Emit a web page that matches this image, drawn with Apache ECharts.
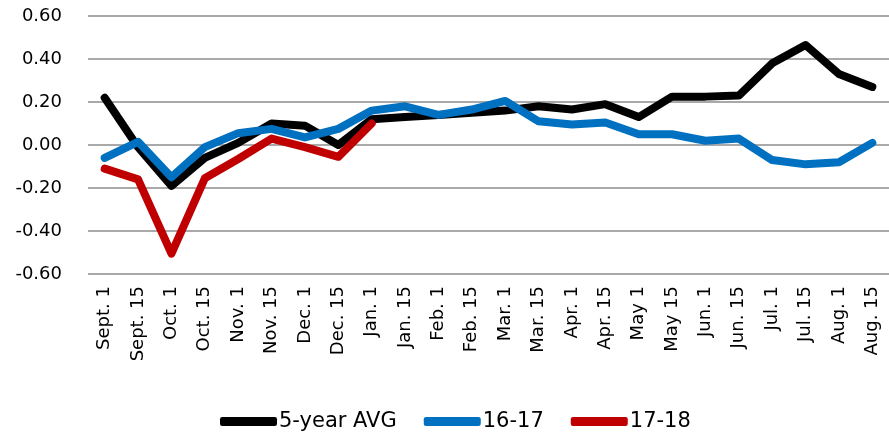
<!DOCTYPE html>
<html>
<head>
<meta charset="utf-8">
<script src="https://cdn.jsdelivr.net/npm/echarts@6/dist/echarts.min.js"></script>
<style>
html, body { margin: 0; padding: 0; background: #fff; }
#main { width: 889px; height: 438px; }
</style>
</head>
<body>
<div id="main"></div>
<script>
var categories = ['Sept. 1', 'Sept. 15', 'Oct. 1', 'Oct. 15', 'Nov. 1', 'Nov. 15', 'Dec. 1', 'Dec. 15',
    'Jan. 1', 'Jan. 15', 'Feb. 1', 'Feb. 15', 'Mar. 1', 'Mar. 15', 'Apr. 1', 'Apr. 15',
    'May 1', 'May 15', 'Jun. 1', 'Jun. 15', 'Jul. 1', 'Jul. 15', 'Aug. 1', 'Aug. 15'];

var avg5 = [0.22, -0.01, -0.19, -0.06, 0.01, 0.10, 0.09, 0.00,
    0.12, 0.13, 0.14, 0.15, 0.16, 0.18, 0.165, 0.19,
    0.13, 0.225, 0.225, 0.23, 0.38, 0.465, 0.33, 0.27];

var y1617 = [-0.06, 0.015, -0.15, -0.01, 0.055, 0.075, 0.035, 0.075,
    0.16, 0.18, 0.14, 0.165, 0.205, 0.11, 0.095, 0.105,
    0.05, 0.05, 0.02, 0.03, -0.07, -0.09, -0.08, 0.01];

var y1718 = [-0.11, -0.16, -0.505, -0.155, -0.065, 0.03, -0.01, -0.055,
    0.10, null, null, null, null, null, null, null,
    null, null, null, null, null, null, null, null];

var yTicks = [-0.6, -0.4, -0.2, 0, 0.2, 0.4, 0.6];

var myChart = echarts.init(document.getElementById('main'));

function lineSeries(name, data, color) {
    return {
        name: name,
        type: 'line',
        data: data,
        symbol: 'none',
        connectNulls: false,
        lineStyle: { color: color, width: 8, cap: 'round', join: 'round' },
        itemStyle: { color: color }
    };
}

var option = {
    animation: false,
    textStyle: { fontFamily: 'DejaVu Sans' },
    grid: { left: 88, right: 0, top: 16, bottom: 164 },
    legend: {
        left: 215,
        bottom: 1,
        icon: 'roundRect',
        itemWidth: 57,
        itemHeight: 9,
        itemGap: 27,
        textStyle: { fontSize: 21, color: '#000', fontFamily: 'DejaVu Sans', padding: [0, 0, 0, -3] },
        data: ['5-year AVG', '16-17', '17-18']
    },
    xAxis: {
        type: 'category',
        data: categories,
        boundaryGap: true,
        axisLine: { show: false },
        axisTick: { show: false },
        axisLabel: { rotate: 90, fontSize: 18, color: '#000', margin: 12, interval: 0 }
    },
    yAxis: {
        type: 'value',
        min: yTicks[0],
        max: yTicks[yTicks.length - 1],
        interval: 0.2,
        axisLine: { show: false },
        axisTick: { show: false },
        splitLine: { lineStyle: { color: '#8c8c8c', width: 1.5 } },
        axisLabel: {
            fontSize: 18, color: '#000', margin: 26,
            formatter: function (v) { return v.toFixed(2); }
        }
    },
    series: [
        lineSeries('5-year AVG', avg5, '#000000'),
        lineSeries('16-17', y1617, '#0070c0'),
        lineSeries('17-18', y1718, '#c00000')
    ]
};

myChart.setOption(option);
</script>
</body>
</html>
